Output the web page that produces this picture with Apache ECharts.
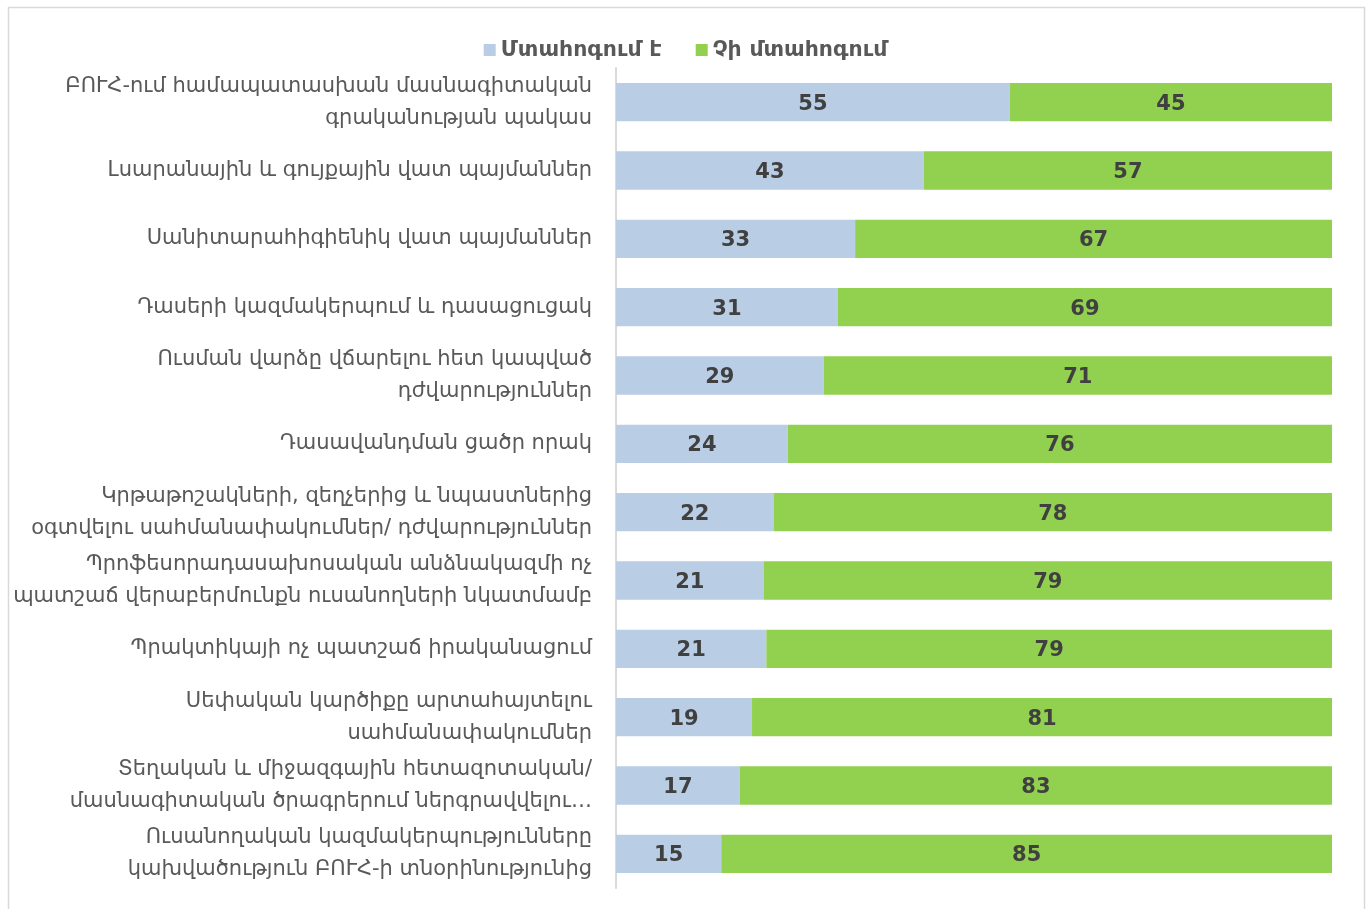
<!DOCTYPE html>
<html>
<head>
<meta charset="utf-8">
<script src="https://cdn.jsdelivr.net/npm/echarts@6/dist/echarts.min.js"></script>
<style>
html,body{margin:0;padding:0;background:#fff;}
#chart{width:1371px;height:909px;}
</style>
</head>
<body>
<div id="chart"></div>
<script>
const categories = [
  "ԲՈՒՀ-ում համապատասխան մասնագիտական\nգրականության պակաս",
  "Լսարանային և գույքային վատ պայմաններ",
  "Սանիտարահիգիենիկ վատ պայմաններ",
  "Դասերի կազմակերպում և դասացուցակ",
  "Ուսման վարձը վճարելու հետ կապված\nդժվարություններ",
  "Դասավանդման ցածր որակ",
  "Կրթաթոշակների, զեղչերից և նպաստներից\nօգտվելու սահմանափակումներ/ դժվարություններ",
  "Պրոֆեսորադասախոսական անձնակազմի ոչ\nպատշաճ վերաբերմունքն ուսանողների նկատմամբ",
  "Պրակտիկայի ոչ պատշաճ իրականացում",
  "Սեփական կարծիքը արտահայտելու\nսահմանափակումներ",
  "Տեղական և միջազգային հետազոտական/\nմասնագիտական ծրագրերում ներգրավվելու…",
  "Ուսանողական կազմակերպությունները\nկախվածություն ԲՈՒՀ-ի տնօրինությունից"
];
const seriesNames = ["Մտահոգում է", "Չի մտահոգում"];
const concerned    = [55, 43, 33.4, 31, 29, 24, 22, 20.6, 21, 19, 17.3, 14.7];
const notConcerned = [45, 57, 66.6, 69, 71, 76, 78, 79.4, 79, 81, 82.7, 85.3];

const FONT = "'DejaVu Sans', sans-serif";
const chart = echarts.init(document.getElementById('chart'));
const labelCfg = {
  show: true, position: 'inside', color: '#404040', fontSize: 21, fontWeight: 'bold',
  fontFamily: FONT, offset: [0, 2], formatter: p => Math.round(p.value)
};
chart.setOption({
  animation: false,
  graphic: [{
    type: 'rect', shape: {x: 8.5, y: 7.5, width: 1356, height: 920},
    style: {fill: 'none', stroke: '#d9d9d9', lineWidth: 1.5}, silent: true
  }],
  legend: {
    top: 34, left: 'center', itemWidth: 12, itemHeight: 12, itemGap: 34, icon: 'rect',
    textStyle: {color: '#595959', fontSize: 22, fontWeight: 'bold', fontFamily: FONT},
    data: seriesNames
  },
  grid: {left: 616, right: 39, top: 68, bottom: 21, containLabel: false},
  xAxis: {type: 'value', min: 0, max: 100, show: false},
  yAxis: {
    type: 'category', data: categories, inverse: true,
    axisLine: {show: true, lineStyle: {color: '#d9d9d9', width: 2}},
    axisTick: {show: false},
    axisLabel: {color: '#595959', fontSize: 21, fontFamily: FONT, margin: 24, lineHeight: 32, align: 'right'}
  },
  series: [
    {name: seriesNames[0], type: 'bar', stack: 'a', data: concerned, barCategoryGap: '44%',
     itemStyle: {color: '#b9cde5'}, label: labelCfg},
    {name: seriesNames[1], type: 'bar', stack: 'a', data: notConcerned, barCategoryGap: '44%',
     itemStyle: {color: '#92d050'}, label: labelCfg}
  ]
});
</script>
</body>
</html>
